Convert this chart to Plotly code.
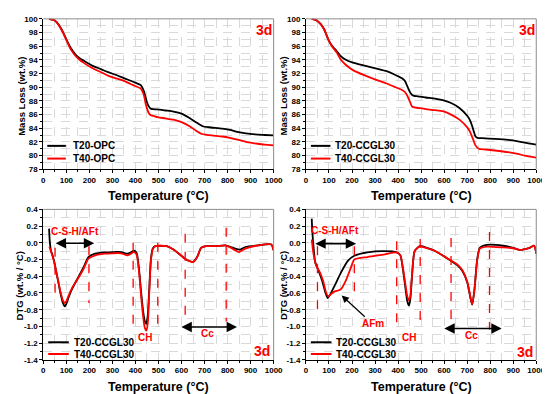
import plotly.graph_objects as go

W, H = 550, 394
FONT = "Liberation Sans, Arial, sans-serif"
RED = "#ff0000"

# ---------------- data ----------------
# TGA, top-left (OPC)
tga_opc_T20_t = [25, 50, 68, 85, 104, 120, 139, 155, 174, 210, 250, 281, 320, 352, 390, 423, 437, 445, 451, 458, 465, 475, 494, 530, 565, 600, 635, 665, 692, 720, 777, 810, 848, 880, 919, 960, 1000]
tga_opc_T20_v = [100.0, 99.75, 99.1, 98.1, 96.7, 95.7, 94.8, 94.3, 93.9, 93.2, 92.65, 92.2, 91.75, 91.3, 90.8, 90.3, 89.4, 88.4, 87.7, 87.2, 86.9, 86.8, 86.75, 86.6, 86.45, 86.15, 85.5, 84.85, 84.3, 84.15, 83.95, 83.75, 83.45, 83.25, 83.1, 83.02, 82.95]
tga_opc_T40_t = [25, 50, 68, 85, 104, 120, 139, 155, 174, 210, 250, 281, 320, 352, 390, 423, 437, 445, 451, 458, 465, 479, 500, 530, 565, 600, 635, 665, 685, 720, 777, 810, 848, 880, 919, 960, 1000]
tga_opc_T40_v = [100.0, 99.75, 99.0, 98.0, 96.6, 95.5, 94.6, 94.1, 93.6, 92.85, 92.2, 91.7, 91.25, 90.9, 90.3, 89.8, 88.8, 87.5, 86.8, 86.2, 85.95, 85.8, 85.6, 85.45, 85.25, 84.9, 84.3, 83.6, 83.2, 83.0, 82.8, 82.6, 82.3, 82.0, 81.8, 81.6, 81.5]

# TGA, top-right (CCGL30)
tga_ccgl_T20_t = [25, 45, 65, 80, 98, 115, 133, 150, 169, 204, 250, 311, 350, 382, 417, 430, 438, 450, 460, 470, 481, 520, 560, 594, 630, 665, 701, 712, 722, 730, 736, 745, 765, 820, 878, 920, 949, 1000]
tga_ccgl_T20_v = [100.0, 99.8, 99.2, 98.4, 96.9, 96.0, 95.3, 94.6, 94.1, 93.6, 93.2, 92.7, 92.35, 91.9, 91.3, 90.9, 90.3, 89.4, 88.9, 88.75, 88.7, 88.5, 88.35, 88.1, 87.7, 87.0, 85.8, 85.2, 84.3, 83.4, 82.8, 82.6, 82.55, 82.45, 82.3, 82.1, 81.9, 81.6]
tga_ccgl_T40_t = [25, 45, 65, 80, 98, 115, 133, 150, 169, 204, 250, 311, 350, 382, 417, 430, 438, 450, 460, 470, 481, 520, 560, 594, 630, 665, 701, 712, 722, 730, 736, 750, 780, 820, 878, 920, 949, 1000]
tga_ccgl_T40_v = [100.0, 99.8, 99.2, 98.4, 96.9, 95.9, 95.1, 94.1, 93.4, 92.5, 91.8, 91.0, 90.55, 90.1, 89.6, 89.3, 88.9, 88.0, 87.2, 87.05, 87.0, 86.8, 86.65, 86.5, 86.0, 85.3, 84.1, 83.5, 82.7, 82.0, 81.5, 81.0, 80.9, 80.75, 80.5, 80.25, 80.0, 79.7]

# DTG, bottom-left
dtg_l_T20_t = [25, 28, 33, 40, 47, 55, 65, 75, 85, 93, 100, 110, 125, 150, 175, 196, 225, 267, 300, 338, 366, 394, 405, 415, 425, 435, 441, 447, 453, 460, 467, 475, 486, 536, 565, 593, 620, 650, 668, 685, 706, 750, 791, 815, 834, 855, 877, 933, 990, 1000]
dtg_l_T20_v = [0.17, 0.02, -0.09, -0.15, -0.22, -0.33, -0.47, -0.61, -0.72, -0.76, -0.73, -0.65, -0.55, -0.42, -0.29, -0.17, -0.13, -0.115, -0.11, -0.11, -0.13, -0.095, -0.12, -0.3, -0.6, -0.85, -0.94, -0.97, -0.88, -0.55, -0.2, -0.07, -0.04, -0.04, -0.08, -0.14, -0.2, -0.227, -0.17, -0.06, -0.04, -0.04, -0.03, -0.05, -0.07, -0.08, -0.05, -0.03, -0.02, -0.09]
dtg_l_T40_t = [25, 28, 33, 40, 47, 55, 65, 75, 85, 93, 100, 110, 125, 150, 175, 196, 225, 267, 300, 338, 366, 394, 405, 415, 425, 435, 441, 448, 454, 460, 467, 475, 486, 536, 565, 593, 620, 650, 668, 685, 706, 750, 791, 815, 834, 848, 877, 933, 990, 1000]
dtg_l_T40_v = [-0.05, -0.06, -0.1, -0.16, -0.23, -0.33, -0.46, -0.59, -0.69, -0.72, -0.7, -0.63, -0.54, -0.43, -0.31, -0.19, -0.15, -0.13, -0.125, -0.125, -0.15, -0.11, -0.14, -0.33, -0.65, -0.92, -1.02, -1.05, -0.95, -0.6, -0.22, -0.08, -0.04, -0.04, -0.08, -0.14, -0.2, -0.23, -0.17, -0.06, -0.04, -0.04, -0.03, -0.06, -0.09, -0.11, -0.07, -0.03, -0.02, -0.09]

# DTG, bottom-right
dtg_r_T20_t = [25, 28, 32, 40, 54, 70, 85, 94, 105, 125, 153, 182, 210, 267, 337, 394, 410, 420, 430, 440, 447, 453, 460, 472, 494, 502, 559, 616, 658, 680, 701, 715, 722, 732, 743, 755, 786, 856, 900, 928, 970, 991, 1000]
dtg_r_T20_v = [0.29, 0.12, -0.02, -0.23, -0.33, -0.45, -0.6, -0.66, -0.62, -0.51, -0.35, -0.215, -0.155, -0.115, -0.10, -0.115, -0.15, -0.3, -0.5, -0.7, -0.75, -0.68, -0.42, -0.1, -0.04, -0.04, -0.095, -0.19, -0.27, -0.34, -0.48, -0.67, -0.74, -0.55, -0.21, -0.06, -0.025, -0.035, -0.06, -0.085, -0.06, -0.035, -0.13]
dtg_r_T40_t = [25, 28, 32, 44, 60, 75, 88, 97, 110, 125, 140, 153, 174, 196, 210, 267, 337, 394, 410, 420, 430, 440, 447, 453, 460, 472, 494, 502, 559, 616, 658, 680, 701, 715, 722, 732, 743, 755, 786, 856, 900, 928, 970, 991, 1000]
dtg_r_T40_v = [0.04, -0.03, -0.12, -0.27, -0.35, -0.46, -0.6, -0.64, -0.61, -0.58, -0.57, -0.55, -0.445, -0.29, -0.2, -0.17, -0.14, -0.115, -0.15, -0.28, -0.46, -0.64, -0.69, -0.64, -0.4, -0.1, -0.04, -0.045, -0.095, -0.19, -0.26, -0.33, -0.47, -0.66, -0.735, -0.55, -0.22, -0.07, -0.045, -0.055, -0.065, -0.085, -0.06, -0.035, -0.13]

series_names = [["T20-OPC", "T40-OPC"], ["T20-CCGL30", "T40-CCGL30"],
                ["T20-CCGL30", "T40-CCGL30"], ["T20-CCGL30", "T40-CCGL30"]]
series_colors = ["#000000", RED]

x_tick_vals = [0, 100, 200, 300, 400, 500, 600, 700, 800, 900, 1000]
x_tick_labels = ["0", "100", "200", "300", "400", "500", "600", "700", "800", "900", "1000"]
tga_tick_vals = [78, 80, 82, 84, 86, 88, 90, 92, 94, 96, 98, 100]
tga_tick_labels = ["78", "80", "82", "84", "86", "88", "90", "92", "94", "96", "98", "100"]
dtg_tick_vals = [-1.4, -1.2, -1.0, -0.8, -0.6, -0.4, -0.2, 0.0, 0.2, 0.4]
dtg_tick_labels = ["-1.4", "-1.2", "-1.0", "-0.8", "-0.6", "-0.4", "-0.2", "0.0", "0.2", "0.4"]

# vertical red dashed guides (T, top, bottom)
guides_left = [(51, -0.06, -0.70), (198, -0.04, -0.72), (390, 0.0, -1.05), (497, 0.0, -1.02), (616, 0.11, -0.92), (794, 0.18, -0.94)]
guides_right = [(50, -0.04, -0.80), (210, -0.04, -0.69), (394, 0.02, -0.99), (496, 0.045, -0.99), (630, 0.057, -1.04), (797, 0.13, -1.04)]

# ---------------- figure ----------------
fig = go.Figure()

panels = [
    ("x", "y", [(tga_opc_T20_t, tga_opc_T20_v), (tga_opc_T40_t, tga_opc_T40_v)]),
    ("x2", "y2", [(tga_ccgl_T20_t, tga_ccgl_T20_v), (tga_ccgl_T40_t, tga_ccgl_T40_v)]),
    ("x3", "y3", [(dtg_l_T20_t, dtg_l_T20_v), (dtg_l_T40_t, dtg_l_T40_v)]),
    ("x4", "y4", [(dtg_r_T20_t, dtg_r_T20_v), (dtg_r_T40_t, dtg_r_T40_v)]),
]
for pi, (xa, ya, ser) in enumerate(panels):
    for si, (tt, vv) in enumerate(ser):
        fig.add_trace(go.Scatter(x=tt, y=vv, mode="lines", xaxis=xa, yaxis=ya,
                                 name=series_names[pi][si], showlegend=False,
                                 line=dict(color=series_colors[si], width=1.8,
                                           shape="spline", smoothing=0.6)))

def px_x(p):
    return p / W

def px_y(p):
    return 1 - p / H

xdomL = [px_x(34), px_x(269)]
xdomR = [px_x(302), px_x(537)]
ydomT = [px_y(161), px_y(7)]
ydomB = [px_y(356), px_y(202)]

grid = dict(showgrid=True, gridcolor="#d9d9d9", griddash="dash", gridwidth=0.8)

def xaxis(dom, anchor):
    return dict(domain=dom, anchor=anchor, range=[0, 1000], tickvals=x_tick_vals, ticktext=x_tick_labels,
                showline=True, linecolor="black", linewidth=1, ticks="outside", ticklen=3,
                tickcolor="black", tickfont=dict(family=FONT, size=8, weight="bold", color="black"),
                zeroline=False, fixedrange=True,
                minor=dict(dtick=50, tick0=0, ticks="outside", ticklen=2, tickcolor="black", **grid),
                **grid)

def yaxis(dom, anchor, rng, tv, tt, mdt):
    return dict(domain=dom, anchor=anchor, range=rng, tickvals=tv, ticktext=tt,
                showline=True, linecolor="black", linewidth=1, ticks="outside", ticklen=3,
                tickcolor="black", tickfont=dict(family=FONT, size=8, weight="bold", color="black"),
                zeroline=False, fixedrange=True,
                minor=dict(dtick=mdt, tick0=0, ticks="outside", ticklen=2, tickcolor="black", **grid),
                **grid)

fig.update_layout(
    width=W, height=H, margin=dict(l=0, r=0, t=0, b=0),
    paper_bgcolor="white", plot_bgcolor="white", showlegend=False,
    xaxis=xaxis(xdomL, "y"), yaxis=yaxis(ydomT, "x", [78, 100], tga_tick_vals, tga_tick_labels, 1),
    xaxis2=xaxis(xdomR, "y2"), yaxis2=yaxis(ydomT, "x2", [78, 100], tga_tick_vals, tga_tick_labels, 1),
    xaxis3=xaxis(xdomL, "y3"), yaxis3=yaxis(ydomB, "x3", [-1.4, 0.4], dtg_tick_vals, dtg_tick_labels, 0.1),
    xaxis4=xaxis(xdomR, "y4"), yaxis4=yaxis(ydomB, "x4", [-1.4, 0.4], dtg_tick_vals, dtg_tick_labels, 0.1),
)

shapes = []
annotations = []

# gray top/right frame
for xa, ya in [("x", "y"), ("x2", "y2"), ("x3", "y3"), ("x4", "y4")]:
    for (x0, y0, x1, y1) in [(0, 1, 1, 1), (1, 0, 1, 1)]:
        shapes.append(dict(type="line", xref=f"{xa} domain", yref=f"{ya} domain",
                           x0=x0, y0=y0, x1=x1, y1=y1, line=dict(color="#8c8c8c", width=1), layer="above"))

# dashed guides
for xa, ya, guides in [("x3", "y3", guides_left), ("x4", "y4", guides_right)]:
    for (t, v0, v1) in guides:
        shapes.append(dict(type="line", xref=xa, yref=ya, x0=t, x1=t, y0=v0, y1=v1,
                           line=dict(color=RED, width=1.3, dash="dash"), layer="above"))

# manual legends (line sample px, text px, rows px)
legend_pos = [(38, 57, 62, 137, 150), (307, 327, 330, 137, 150), (39, 60, 63, 338, 350), (307, 328, 331, 338, 350)]
for pi, (lx0, lx1, tx, r0, r1) in enumerate(legend_pos):
    for si, ry in enumerate([r0, r1]):
        shapes.append(dict(type="line", xref="paper", yref="paper", x0=px_x(lx0), x1=px_x(lx1),
                           y0=px_y(ry), y1=px_y(ry), line=dict(color=series_colors[si], width=2)))
        annotations.append(dict(xref="paper", yref="paper", x=px_x(tx), y=px_y(ry), xanchor="left",
                                yanchor="middle", text=series_names[pi][si], showarrow=False,
                                font=dict(family=FONT, size=10, weight="bold", color="black")))

# axis titles
for cx, cy in [(152, 188), (420, 188), (152, 384), (420, 384)]:
    annotations.append(dict(xref="paper", yref="paper", x=px_x(cx), y=px_y(cy), text="Temperature (°C)",
                            showarrow=False, xanchor="center", yanchor="middle",
                            font=dict(family=FONT, size=12.5, weight="bold", color="black")))
for cx, cy, txt in [(11, 86, "Mass Loss (wt.%)"), (279, 86, "Mass Loss (wt.%)"),
                    (10, 280, "DTG (wt.% / °C)"), (279, 280, "DTG (wt.% / °C)")]:
    annotations.append(dict(xref="paper", yref="paper", x=px_x(cx), y=px_y(cy), text=txt, textangle=-90,
                            showarrow=False, xanchor="center", yanchor="middle",
                            font=dict(family=FONT, size=9.5, weight="bold", color="black")))

# "3d" labels
for xa, ya, x, y in [("x", "y", 957, 98.4), ("x2", "y2", 960, 98.4), ("x3", "y3", 951, -1.29), ("x4", "y4", 951, -1.31)]:
    annotations.append(dict(xref=xa, yref=ya, x=x, y=y, text="3d", showarrow=False,
                            font=dict(family=FONT, size=14, weight="bold", color=RED)))

# phase labels
labels = [("x3", "y3", 137, 0.135, "C-S-H/AFt"), ("x3", "y3", 442, -1.135, "CH"), ("x3", "y3", 715, -1.09, "Cc"),
          ("x4", "y4", 125, 0.145, "C-S-H/AFt"), ("x4", "y4", 289, -0.97, "AFm"),
          ("x4", "y4", 449, -1.13, "CH"), ("x4", "y4", 717, -1.113, "Cc")]
for xa, ya, x, y, txt in labels:
    annotations.append(dict(xref=xa, yref=ya, x=x, y=y, text=txt, showarrow=False,
                            font=dict(family=FONT, size=10, weight="bold", color=RED)))

# double-headed range arrows (start T, end T, level)
range_arrows = [("x3", "y3", 47, 221, -0.005), ("x3", "y3", 593, 841, -1.006),
                ("x4", "y4", 34, 218, -0.01), ("x4", "y4", 594, 850, -1.025)]
for xa, ya, t0, t1, v in range_arrows:
    annotations.append(dict(xref=xa, yref=ya, axref=xa, ayref=ya, x=t1, y=v, ax=t0, ay=v, text="",
                            showarrow=True, arrowside="end+start", arrowhead=2, arrowsize=1.3,
                            arrowwidth=1.6, arrowcolor="black", standoff=0, startstandoff=0))
# AFm pointer
annotations.append(dict(xref="x4", yref="y4", axref="x4", ayref="y4", x=155, y=-0.63, ax=262, ay=-0.9,
                        text="", showarrow=True, arrowhead=2, arrowsize=1.2, arrowwidth=1.2,
                        arrowcolor="black"))

fig.update_layout(shapes=shapes, annotations=annotations)
fig.write_html("out.html")
